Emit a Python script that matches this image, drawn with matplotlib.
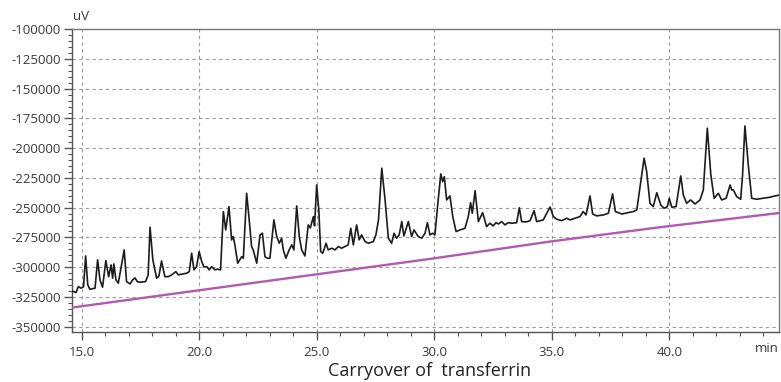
import matplotlib
matplotlib.use("Agg")
import matplotlib.pyplot as plt
from matplotlib.ticker import MultipleLocator, FixedLocator
import numpy as np

plt.rcParams['font.family'] = ['Open Sans', 'DejaVu Sans']

# Chromatogram trace (time in min, signal in uV)
trace_time = [
    14.59, 14.76, 14.86, 14.97, 15.08, 15.17, 15.26, 15.35, 15.57, 15.68,
    15.78, 15.89, 16.03, 16.15, 16.25, 16.32, 16.37, 16.46, 16.56, 16.81,
    16.91, 17.06, 17.17, 17.27, 17.37, 17.48, 17.72, 17.83, 17.91, 18.03,
    18.19, 18.29, 18.40, 18.54, 18.69, 18.83, 19.01, 19.11, 19.47, 19.58,
    19.68, 19.78, 19.89, 20.00, 20.11, 20.20, 20.32, 20.43, 20.53, 20.67,
    20.77, 20.91, 21.03, 21.13, 21.27, 21.38, 21.45, 21.52, 21.64, 21.81,
    21.88, 22.02, 22.13, 22.23, 22.30, 22.45, 22.59, 22.69, 22.80, 22.90,
    23.01, 23.18, 23.30, 23.41, 23.51, 23.58, 23.69, 23.83, 23.94, 24.03,
    24.15, 24.26, 24.36, 24.50, 24.64, 24.73, 24.86, 24.91, 25.00, 25.09,
    25.17, 25.26, 25.40, 25.49, 25.64, 25.78, 25.92, 26.06, 26.20, 26.34,
    26.45, 26.56, 26.70, 26.81, 26.91, 27.06, 27.20, 27.41, 27.52, 27.63,
    27.77, 27.91, 28.05, 28.19, 28.29, 28.40, 28.51, 28.62, 28.71, 28.90,
    29.04, 29.14, 29.32, 29.47, 29.61, 29.71, 29.82, 29.94, 30.03, 30.17,
    30.28, 30.36, 30.43, 30.53, 30.67, 30.79, 30.93, 31.10, 31.31, 31.45,
    31.55, 31.62, 31.74, 31.88, 32.06, 32.23, 32.37, 32.51, 32.63, 32.73,
    32.87, 33.01, 33.15, 33.30, 33.51, 33.62, 33.72, 33.91, 34.08, 34.25,
    34.36, 34.64, 34.93, 35.07, 35.21, 35.43, 35.64, 35.78, 35.99, 36.20,
    36.34, 36.46, 36.63, 36.74, 36.91, 37.20, 37.41, 37.59, 37.71, 37.98,
    38.26, 38.47, 38.62, 38.76, 38.93, 39.04, 39.18, 39.32, 39.47, 39.64,
    39.78, 39.92, 40.00, 40.11, 40.29, 40.49, 40.60, 40.74, 40.91, 41.10,
    41.31, 41.45, 41.62, 41.77, 41.91, 42.09, 42.23, 42.42, 42.59, 42.66,
    42.73, 42.87, 43.04, 43.12, 43.22, 43.37, 43.51, 43.72, 44.00, 44.29,
    44.50, 44.67,
]
trace_uv = [
    -320000, -321400, -316400, -317700, -316600, -290600, -314900, -318600, -317700, -293900,
    -310700, -316900, -294500, -308000, -298100, -309300, -297300, -310700, -313500, -285500,
    -312200, -314100, -310700, -309100, -312200, -312700, -312200, -306500, -266400, -293900,
    -309300, -307400, -294800, -308000, -308000, -306500, -303800, -306500, -305100, -303800,
    -288300, -302300, -299600, -286900, -295400, -299800, -299600, -302300, -299600, -302300,
    -301700, -302300, -253300, -268700, -249100, -277100, -274300, -281300, -296700, -291200,
    -292500, -237900, -260300, -282700, -285500, -296700, -272900, -271500, -291200, -292500,
    -292500, -260300, -274300, -279900, -275700, -285500, -292500, -285500, -281300, -285500,
    -248500, -274300, -285500, -290600, -264500, -267000, -257500, -265300, -230900, -251900,
    -286900, -288300, -279900, -285500, -284100, -285500, -282700, -284100, -282700, -281300,
    -267300, -281300, -264500, -277100, -272900, -278500, -279900, -278500, -272900, -260300,
    -216800, -243500, -275700, -279900, -271500, -275700, -272900, -261700, -273800, -261700,
    -274300, -268700, -274300, -275700, -271500, -262600, -272900, -271500, -272900, -243500,
    -221600, -228100, -223900, -243500, -240100, -257500, -270100, -268700, -267300, -257500,
    -245800, -254700, -235700, -261700, -254200, -265900, -263100, -265300, -262600, -263700,
    -261700, -264500, -262600, -263100, -262600, -250000, -261700, -262000, -260900, -252500,
    -261700, -260300, -249400, -257500, -259700, -260900, -258900, -260300, -258900, -257500,
    -253300, -256100, -240100, -255300, -256900, -256100, -254700, -238400, -253300, -255300,
    -254200, -253300, -251900, -232300, -208400, -219700, -246300, -249100, -237400, -247700,
    -250500, -249100, -242100, -249600, -249100, -223300, -239300, -246300, -243500, -246900,
    -243500, -235100, -183200, -222500, -242100, -237900, -243500, -242100, -230900, -235100,
    -235100, -240700, -242900, -222500, -181300, -215500, -242100, -242900, -242100, -241200,
    -240100, -239500,
]

# Blank / carryover baseline trace
blank_time = [14.59, 22.59, 29.82, 34.93, 39.62, 44.67]
blank_uv = [-334000, -312500, -293100, -278500, -266400, -254500]

x_major = [15.0, 20.0, 25.0, 30.0, 35.0, 40.0]
x_labels = ["15.0", "20.0", "25.0", "30.0", "35.0", "40.0"]
y_major = [-100000, -125000, -150000, -175000, -200000, -225000, -250000,
           -275000, -300000, -325000, -350000]
y_labels = [str(v) for v in y_major]

W, H = 781, 382
fig = plt.figure(figsize=(W / 100, H / 100), dpi=100)
ax = fig.add_axes([72 / W, 1 - 331.7 / H, (779 - 72) / W, (331.7 - 29.3) / H])

ax.plot(blank_time, blank_uv, color='#b05ab0', lw=1.7, zorder=3)
ax.plot(trace_time, trace_uv, color='#1c1c1c', lw=1.2, zorder=4)

ax.set_xlim(14.59, 44.67)
ax.set_ylim(-354300, -100000)

ax.xaxis.set_major_locator(FixedLocator(x_major))
ax.set_xticklabels(x_labels)
ax.xaxis.set_minor_locator(MultipleLocator(1.0))
ax.yaxis.set_major_locator(FixedLocator(y_major))
ax.set_yticklabels(y_labels)
ax.yaxis.set_minor_locator(MultipleLocator(5000))

ax.grid(True, which='major', color='#9a9a9a', lw=0.8, ls=(0, (3, 3)))
ax.set_axisbelow(True)

for s in ax.spines.values():
    s.set_color('#555555')
    s.set_linewidth(1.0)
ax.spines['top'].set_color('#777777')
ax.spines['right'].set_color('#777777')

ax.tick_params(axis='both', which='major', length=6, width=1.0, color='#555555',
               labelsize=9.5, labelcolor='#3a3a3a')
ax.tick_params(axis='both', which='minor', length=3, width=0.8, color='#555555')
ax.tick_params(axis='y', which='major', pad=2)
ax.tick_params(axis='x', which='major', pad=4)

fig.text(73 / W, 1 - 17 / H, "uV", fontsize=9.5, color='#3a3a3a', ha='left', va='center')
fig.text(779 / W, 1 - 348 / H, "min", fontsize=9.5, color='#3a3a3a', ha='right', va='center')
fig.text(430 / W, 1 - 371 / H, "Carryover of  transferrin", fontsize=13,
         color='#222222', ha='center', va='center')

fig.savefig("out.png", dpi=100)
